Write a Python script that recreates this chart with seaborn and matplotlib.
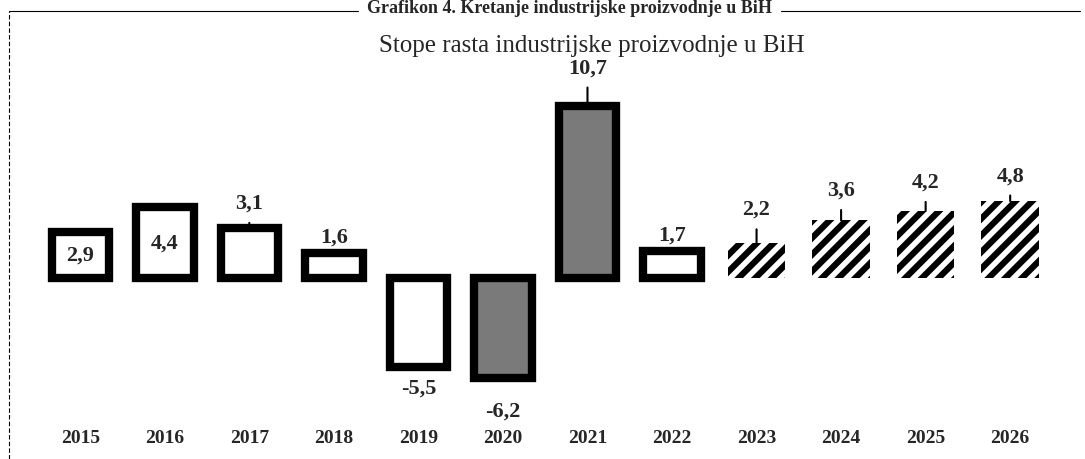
import matplotlib
matplotlib.use("Agg")
import matplotlib.pyplot as plt
import seaborn as sns

years = ["2015", "2016", "2017", "2018", "2019", "2020",
         "2021", "2022", "2023", "2024", "2025", "2026"]
growth = [2.9, 4.4, 3.1, 1.6, -5.5, -6.2, 10.7, 1.7, 2.2, 3.6, 4.2, 4.8]
forecast_from = "2023"
title = "Stope rasta industrijske proizvodnje u BiH"
header = "Grafikon 4. Kretanje industrijske proizvodnje u BiH"

sns.set_style("white")
plt.rcParams["font.family"] = ["Liberation Serif", "DejaVu Serif"]
plt.rcParams["hatch.linewidth"] = 4.5

fig = plt.figure(figsize=(10.85, 4.6), dpi=100)
ax = fig.add_axes([0.035, 0.102, 0.935, 0.711])

sns.barplot(x=years, y=growth, color="white", width=0.68, ax=ax)

first_fc = years.index(forecast_from)
for i, bar in enumerate(ax.patches):
    if i >= first_fc:
        bar.set_facecolor("white")
        bar.set_edgecolor("black")
        bar.set_linewidth(0)
        bar.set_hatch("//")
    else:
        bar.set_edgecolor("black")
        bar.set_linewidth(6)
        bar.set_joinstyle("miter")
        if years[i] in ("2020", "2021"):
            bar.set_facecolor("#7a7a7a")

ax.set_ylim(-8.3, 12)
ax.set_xlim(-0.5, len(years) - 0.5)
ax.set_yticks([])
ax.set_xlabel("")
ax.set_ylabel("")
for s in ax.spines.values():
    s.set_visible(False)
ax.tick_params(axis="x", length=0, pad=12)
for lbl in ax.get_xticklabels():
    lbl.set_fontweight("bold")
    lbl.set_fontsize(14)

# label offset above/below bar end (in data units)
label_gap = {"2017": 1.6, "2018": 1.0, "2019": -1.3, "2020": -2.0,
             "2021": 2.4, "2022": 1.0, "2023": 2.1, "2024": 1.9,
             "2025": 1.8, "2026": 1.6}
leader = {"2017", "2021", "2022", "2023", "2024", "2025", "2026"}

for i, v in enumerate(growth):
    txt = f"{v:.1f}".replace(".", ",")
    yr = years[i]
    if yr not in label_gap:
        ax.text(i, v / 2, txt, ha="center", va="center", fontsize=16,
                fontweight="bold")
    elif yr in leader:
        ax.annotate(txt, xy=(i, v), xytext=(i, v + label_gap[yr]),
                    ha="center", va="center", fontsize=16, fontweight="bold",
                    arrowprops=dict(arrowstyle="-", color="black", lw=1.5,
                                    shrinkA=5, shrinkB=0))
    else:
        ax.text(i, v + label_gap[yr], txt, ha="center", va="center",
                fontsize=16, fontweight="bold")

fig.text(0.545, 0.9, title, ha="center", va="center", fontsize=18)
fig.text(0.525, 1.0, header, ha="center", va="top", fontsize=13,
         fontweight="bold")

# page frame lines
fig.add_artist(plt.Line2D([0.008, 0.008], [0.0, 0.975], color="black",
                          lw=0.8, ls=(0, (4, 2))))
fig.add_artist(plt.Line2D([0.008, 0.33], [0.975, 0.975], color="black", lw=0.8))
fig.add_artist(plt.Line2D([0.72, 0.995], [0.975, 0.975], color="black", lw=0.8))

fig.savefig("out.png", dpi=100)
